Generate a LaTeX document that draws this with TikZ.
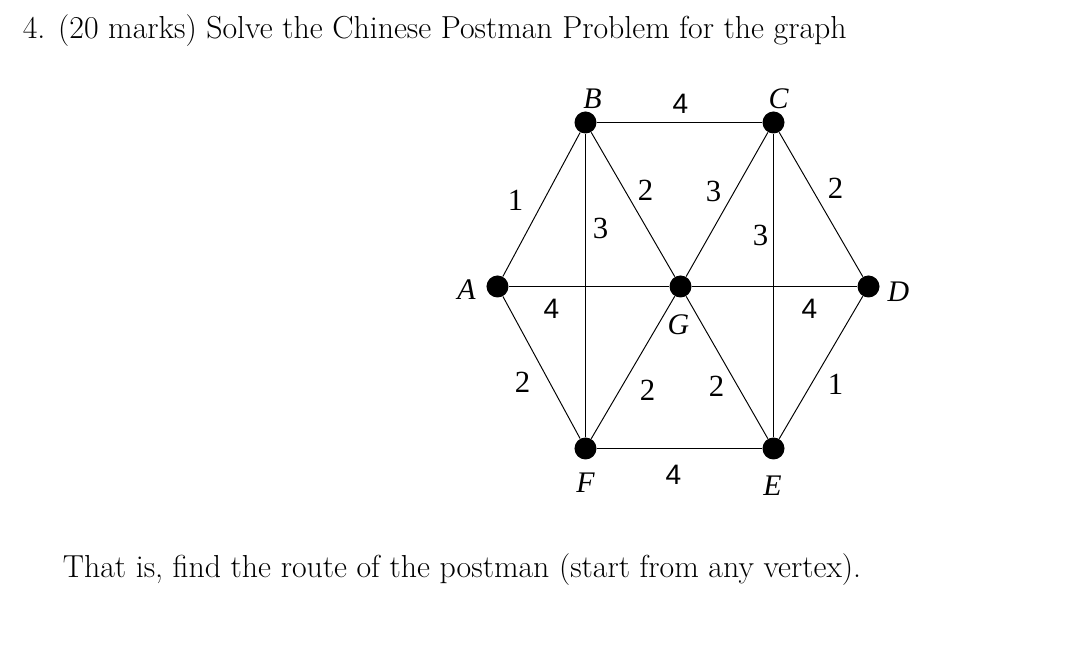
\documentclass[tikz,border=0pt]{standalone}
\usepackage{fontspec}
\newfontfamily\timesfont{Liberation Serif}
\newfontfamily\arialfont{Liberation Sans}
\begin{document}
\begin{tikzpicture}[
  cppvertex/.style = {circle, fill=black, inner sep=0pt, minimum size=0.44cm},
  cppedge/.style = {line width=0.55pt},
  cppname/.style = {font=\timesfont\itshape\fontsize{17}{17}\selectfont, inner sep=0pt},
  cppweight/.style = {font=\timesfont\fontsize{17.5}{17.5}\selectfont, inner sep=0pt},
  cppweightsf/.style = {font=\arialfont\fontsize{16}{16}\selectfont, inner sep=0pt},
  cpptext/.style = {font=\fontsize{18.1}{22}\selectfont, anchor=base west, inner sep=0pt}
]
  \useasboundingbox (-13.61,5.73) rectangle (8.07,-7.35);
  % question text
  \node[cpptext] (title) at (-13.16,4.96) {4. (20 marks) Solve the Chinese Postman Problem for the graph};
  \node[cpptext] (note) at (-12.36,-5.82) {That is, find the route of the postman (start from any vertex).};
  % vertices
  \node[cppvertex] (G) at (0,0) {};
  \node[cppvertex] (A) at (-3.66,0) {};
  \node[cppvertex] (D) at (3.76,0) {};
  \node[cppvertex] (B) at (-1.9,3.28) {};
  \node[cppvertex] (C) at (1.86,3.28) {};
  \node[cppvertex] (F) at (-1.9,-3.24) {};
  \node[cppvertex] (E) at (1.86,-3.24) {};
  % edges
  \draw[cppedge] (A) -- (B) -- (C) -- (D) -- (E) -- (F) -- (A);
  \draw[cppedge] (A) -- (G) -- (D);
  \draw[cppedge] (B) -- (F);
  \draw[cppedge] (C) -- (E);
  \draw[cppedge] (B) -- (G) -- (E);
  \draw[cppedge] (C) -- (G) -- (F);
  % vertex names
  \node[cppname] (nA) at (-4.28,-0.06) {A};
  \node[cppname] (nB) at (-1.76,3.76) {B};
  \node[cppname] (nC) at (1.96,3.76) {C};
  \node[cppname] (nD) at (4.36,-0.1) {D};
  \node[cppname] (nE) at (1.84,-3.98) {E};
  \node[cppname] (nF) at (-1.9,-3.92) {F};
  \node[cppname] (nG) at (-0.04,-0.76) {G};
  % weights
  \node[cppweight] (wAB) at (-3.3,1.72) {1};
  \node[cppweight] (wBG) at (-0.7,1.92) {2};
  \node[cppweight] (wBF) at (-1.6,1.16) {3};
  \node[cppweight] (wCG) at (0.66,1.9) {3};
  \node[cppweight] (wCE) at (1.6,1.02) {3};
  \node[cppweight] (wCD) at (3.1,1.96) {2};
  \node[cppweight] (wAF) at (-3.16,-1.92) {2};
  \node[cppweight] (wFG) at (-0.66,-2.08) {2};
  \node[cppweight] (wGE) at (0.72,-2.0) {2};
  \node[cppweight] (wDE) at (3.1,-1.96) {1};
  \node[cppweightsf] (wBC) at (0,3.66) {4};
  \node[cppweightsf] (wFE) at (-0.14,-3.76) {4};
  \node[cppweightsf] (wAG) at (-2.58,-0.44) {4};
  \node[cppweightsf] (wGD) at (2.58,-0.44) {4};
\end{tikzpicture}
\end{document}
